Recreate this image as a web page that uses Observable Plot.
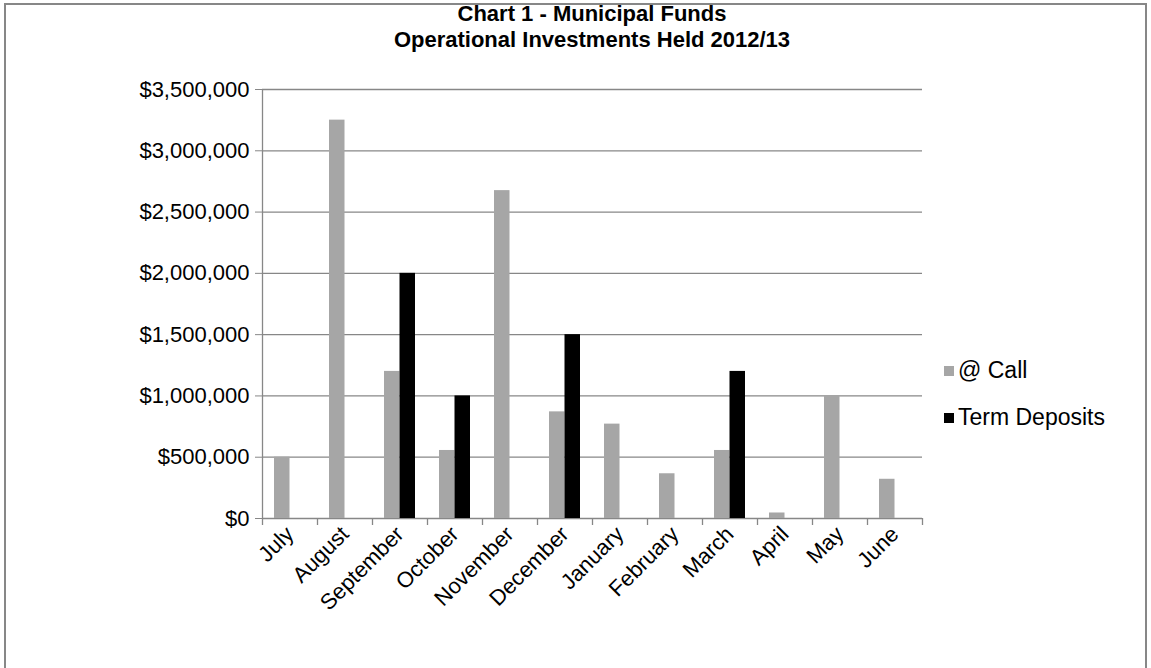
<!DOCTYPE html>
<html>
<head>
<meta charset="utf-8">
<script src="https://cdn.jsdelivr.net/npm/d3@7"></script>
<script src="https://cdn.jsdelivr.net/npm/@observablehq/plot@0.6"></script>
<style>
  html, body { margin: 0; padding: 0; background: #fff; }
  #wrap { position: relative; width: 1151px; height: 668px; overflow: hidden; font-family: "Liberation Sans", Arial, sans-serif; color: #000; }
  #border { position: absolute; left: 4px; top: 3px; width: 1143px; height: 700px; border: 2px solid #878787; box-sizing: border-box; }
  #title { position: absolute; left: 262px; width: 660px; top: 1px; text-align: center; font-weight: bold; font-size: 22px; line-height: 26px; }
  #chart { position: absolute; left: 0; top: 0; }
  #legend { position: absolute; left: 944px; top: 347px; font-size: 23px; }
  .item { display: flex; align-items: center; height: 47px; }
  .sw { width: 10px; height: 10px; margin-right: 4px; }
</style>
</head>
<body>
<div id="wrap">
  <div id="border"></div>
  <div id="title">Chart 1 - Municipal Funds<br>Operational Investments Held 2012/13</div>
  <div id="chart"></div>
  <div id="legend"></div>
</div>
<script>
const months = ["July", "August", "September", "October", "November", "December", "January", "February", "March", "April", "May", "June"];
const callValues = [500000, 3250000, 1200000, 555000, 2675000, 870000, 770000, 365000, 555000, 45000, 1000000, 320000];
const termValues = [0, 0, 2000000, 1000000, 0, 1500000, 0, 0, 1200000, 0, 0, 0];
const yTicks = [0, 500000, 1000000, 1500000, 2000000, 2500000, 3000000, 3500000];
const seriesNames = ["@ Call", "Term Deposits"];
const seriesColors = ["#a6a6a6", "#000000"];

const rows = months.map((m, i) => ({month: m, call: callValues[i], term: termValues[i]}));
const half = 27.5; // half band width, for ticks between categories
const axisGray = "#878787";

const chart = Plot.plot({
  width: 1151,
  height: 668,
  marginLeft: 262,
  marginRight: 229,
  marginTop: 89,
  marginBottom: 150,
  style: {fontFamily: '"Liberation Sans", Arial, sans-serif', fontSize: "22px", color: "#000", background: "transparent", overflow: "visible"},
  x: {domain: months, padding: 0, label: null},
  y: {domain: [0, 3500000], label: null},
  marks: [
    Plot.ruleY(yTicks, {stroke: axisGray, strokeWidth: 1.3}),
    Plot.axisY({ticks: yTicks, tickFormat: d3.format("$,"), tickSize: 7, tickPadding: 6, stroke: axisGray, fontSize: 22, label: null}),
    Plot.barY(rows, {x: "month", y: "call", fill: seriesColors[0], insetLeft: 12, insetRight: 27.5}),
    Plot.barY(rows, {x: "month", y: "term", fill: seriesColors[1], insetLeft: 27.5, insetRight: 12}),
    Plot.ruleX([months[0]], {x: d => d, dx: -half, y1: 0, y2: 3500000, stroke: axisGray, strokeWidth: 1.3}),
    Plot.ruleX(months, {x: d => d, dx: -half, y1: 0, y2: 0, insetTop: 7, stroke: axisGray, strokeWidth: 1.3}),
    Plot.ruleX([months[months.length - 1]], {x: d => d, dx: half, y1: 0, y2: 0, insetTop: 7, stroke: axisGray, strokeWidth: 1.3}),
    Plot.axisX({tickRotate: -45, tickSize: 0, tickPadding: 12, fontSize: 22, label: null})
  ]
});
document.getElementById("chart").appendChild(chart);

const legend = document.getElementById("legend");
seriesNames.forEach((name, i) => {
  const item = document.createElement("div");
  item.className = "item";
  const sw = document.createElement("span");
  sw.className = "sw";
  sw.style.background = seriesColors[i];
  const label = document.createElement("span");
  label.textContent = name;
  item.appendChild(sw);
  item.appendChild(label);
  legend.appendChild(item);
});
</script>
</body>
</html>
